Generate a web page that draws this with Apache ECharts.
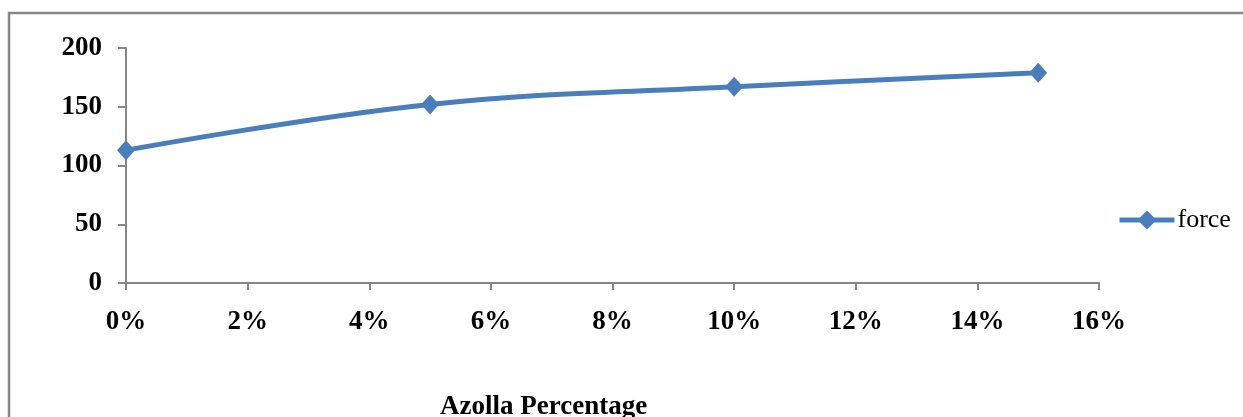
<!DOCTYPE html>
<html>
<head>
<meta charset="utf-8">
<script src="https://cdn.jsdelivr.net/npm/echarts@6/dist/echarts.min.js"></script>
<style>
  html, body { margin: 0; padding: 0; background: #fff; }
  #chart { width: 1243px; height: 417px; }
</style>
</head>
<body>
<div id="chart"></div>
<script>
// Azolla share (%) and measured force
const azollaPercent = [0, 5, 10, 15];
const forceValues = [113, 152, 167, 179];
const seriesName = 'force';
const xAxisTitle = 'Azolla Percentage';

const serif = '"Liberation Serif", "Times New Roman", serif';
const blue = '#4A7EBB';
const axisGray = '#868686';

const chart = echarts.init(document.getElementById('chart'), null, { renderer: 'canvas' });

chart.setOption({
  animation: false,
  backgroundColor: '#fff',
  grid: { left: 126, top: 48, right: 144, bottom: 134, containLabel: false },
  title: {
    text: xAxisTitle,
    left: 440,
    top: 394,
    padding: 0,
    textStyle: { fontFamily: serif, fontWeight: 'bold', fontSize: 27, color: '#000' }
  },
  legend: {
    data: [seriesName],
    left: 1117,
    top: 207,
    itemWidth: 55,
    itemHeight: 24,
    itemGap: 5,
    padding: 0,
    lineStyle: { width: 5 },
    textStyle: { fontFamily: serif, fontSize: 26, color: '#000', padding: [0, 0, 0, -2] }
  },
  xAxis: {
    type: 'value',
    min: 0,
    max: 16,
    interval: 2,
    axisLine: { show: true, lineStyle: { color: axisGray, width: 2 } },
    axisTick: { show: true, length: 7, lineStyle: { color: axisGray, width: 2 } },
    splitLine: { show: false },
    axisLabel: {
      formatter: v => v + '%',
      fontFamily: serif,
      fontWeight: 'bold',
      fontSize: 27,
      color: '#000',
      margin: 26
    }
  },
  yAxis: {
    type: 'value',
    min: 0,
    max: 200,
    interval: 50,
    axisLine: { show: true, lineStyle: { color: axisGray, width: 2 } },
    axisTick: { show: true, length: 8, lineStyle: { color: axisGray, width: 2 } },
    splitLine: { show: false },
    axisLabel: {
      fontFamily: serif,
      fontWeight: 'bold',
      fontSize: 27,
      color: '#000',
      margin: 24
    }
  },
  series: [{
    name: seriesName,
    type: 'line',
    smooth: 0.4,
    data: azollaPercent.map((x, i) => [x, forceValues[i]]),
    symbol: 'diamond',
    symbolSize: [18, 20],
    lineStyle: { color: blue, width: 5 },
    itemStyle: { color: blue }
  }],
  graphic: [{
    type: 'rect',
    shape: { x: 9, y: 13, width: 1400, height: 600 },
    style: { fill: 'none', stroke: axisGray, lineWidth: 2.5 },
    silent: true
  }]
});
</script>
</body>
</html>
